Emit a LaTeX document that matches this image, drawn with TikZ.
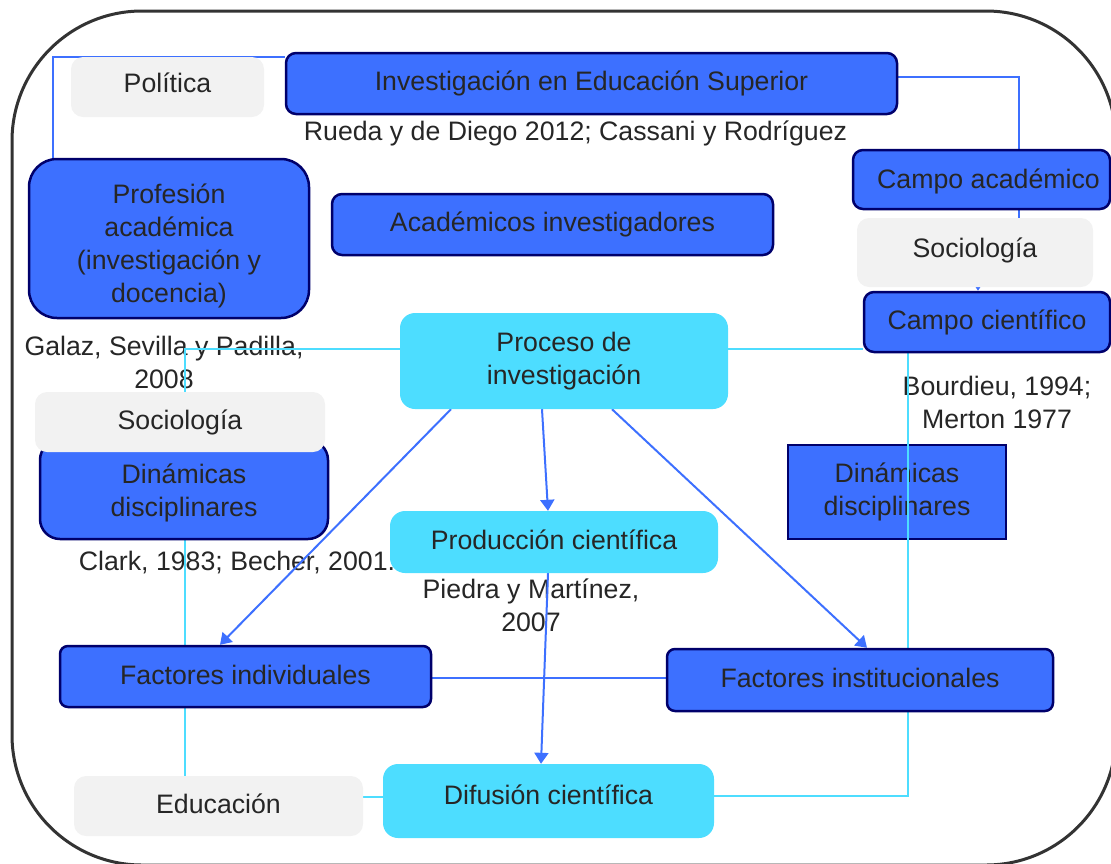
\documentclass[tikz,border=0pt]{standalone}
\usepackage{fontspec}
\setmainfont{Liberation Sans}
\usetikzlibrary{arrows.meta,calc}
\pgfdeclarelayer{bg}
\pgfsetlayers{bg,main}
\definecolor{blu}{HTML}{3D70FF}
\definecolor{navy}{HTML}{00006B}
\definecolor{cya}{HTML}{4DDDFF}
\definecolor{gry}{HTML}{F2F2F2}
\definecolor{txt}{HTML}{262626}
\definecolor{frm}{HTML}{333333}
\begin{document}
\begin{tikzpicture}[x=1pt,y=-1pt,
  every node/.style={font=\fontsize{26.7}{33}\selectfont, text=txt, inner sep=0pt},
  ml/.style={align=center},
  one/.style={text height=19pt, text depth=5pt},
  bbox/.style={fill=blu, draw=navy, line width=2.5pt, rounded corners=10pt},
  cbox/.style={fill=cya, draw=none, rounded corners=15pt},
  gbox/.style={fill=gry, draw=none, rounded corners=12pt},
  bline/.style={draw=blu, line width=2.5pt},
  cline/.style={draw=cya, line width=2.5pt},
  barrow/.style={draw=blu, line width=2pt, -{Triangle[width=14pt,length=11pt]}}
]
\useasboundingbox (0,0) rectangle (1111,863);

% helper coordinates
\coordinate (k1) at (53,57);
\coordinate (k2) at (1019,77);
\coordinate (k3) at (978,250);
\coordinate (k4) at (185,349);
\coordinate (k5) at (908,796);
\coordinate (k6) at (0,678);
\coordinate (k7) at (0,797);
\coordinate (px1) at (451,0);
\coordinate (px2) at (220,0);
\coordinate (px3) at (542,0);
\coordinate (px4) at (548,0);
\coordinate (px5) at (612,0);
\coordinate (px6) at (867,0);
\coordinate (px7) at (548,0);
\coordinate (px8) at (541,0);

% main boxes
\node[gbox,one, text depth=9pt, minimum width=193pt, minimum height=60pt] (pol) at (167.5,87) {Política};
\node[bbox,one, minimum width=611pt, minimum height=61pt] (ies) at (591.5,83.5) {Investigación en Educación Superior};
\node[bbox, rounded corners=28pt, minimum width=280pt, minimum height=159pt] (prof) at (169,238.5) {};
\node[ml] (proft) at (169,245.5) {Profesión\\académica\\(investigación y\\docencia)};
\node[bbox,one, minimum width=441pt, minimum height=61pt] (acad) at (552.5,224.5) {Académicos investigadores};
\node[bbox,one, text depth=2pt, minimum width=257pt, minimum height=59pt] (campoac) at (981.5,179.5) {\hspace*{14pt}Campo académico};
\node[gbox,one, text depth=9pt, minimum width=236pt, minimum height=69pt] (soc2) at (975,252.5) {Sociología};
\node[bbox,one, minimum width=246pt, minimum height=60pt] (campoci) at (987,322) {Campo científico};
\node[cbox,ml, minimum width=328pt, minimum height=96pt] (proc) at (564,361) {Proceso de\\investigación};
\node[bbox,ml, rounded corners=20pt, minimum width=288pt, minimum height=99pt] (dinL) at (184,489.5) {};
\node[ml] (dinLt) at (184,492.5) {Dinámicas\\disciplinares};
\node[gbox,one, minimum width=290pt, minimum height=60pt] (soc1) at (180,422) {Sociología};
\node[cbox,one, minimum width=328pt, minimum height=62pt] (prod) at (554,542) {Producción científica};
\node[bbox,one, text depth=4pt, rounded corners=8pt, minimum width=371pt, minimum height=61pt] (find) at (245.5,676.5) {Factores individuales};
\node[bbox,one, rounded corners=8pt, minimum width=386pt, minimum height=62pt] (finst) at (860,680) {Factores institucionales};
\node[gbox,one, minimum width=289pt, minimum height=60pt] (edu) at (218.5,806) {Educación};
\node[cbox,one, text depth=13pt, minimum width=331pt, minimum height=74pt] (dif) at (548.5,801) {Difusión científica};

\begin{pgfonlayer}{bg}
  \draw[frm, line width=3pt, rounded corners=130pt] (12,11) rectangle (1116,865);
  % annotations
  \node[one] (rueda) at (575.5,133) {Rueda y de Diego 2012; Cassani y Rodríguez};
  \node[ml] (galaz) at (164,362.5) {Galaz, Sevilla y Padilla,\\2008};
  \node[one] (clark) at (237,563) {Clark, 1983; Becher, 2001.};
  \node[ml] (piedra) at (531,605.5) {Piedra y Martínez,\\2007};
  \node[ml] (bourd) at (997,402.5) {Bourdieu, 1994;\\Merton 1977};
  \node[ml, fill=blu, draw=navy, line width=2.5pt, minimum width=218pt, minimum height=94pt] (dinR) at (897,492) {Dinámicas\\disciplinares};
  % blue connectors
  \draw[bline] (ies.west|-k1) -- (k1) -- (k1|-prof.north);
  \draw[bline] (ies.east|-k2) -- (k2) -- (k2|-campoac.north);
  \draw[barrow] (k2|-campoac.south) -- (k2|-k3) -- (k3) -- (k3|-campoci.north);
  \draw[bline] (find.east|-k6) -- (finst.west|-k6);
  % cyan connectors
  \draw[cline] (proc.west|-k4) -- (k4) -- (k4|-edu.north);
  \draw[cline] (proc.east|-k4) -- (campoci.west|-k4);
  \draw[cline] (k5|-campoci.south) -- (k5) -- (dif.east|-k5);
  \draw[cline] (edu.east|-k7) -- (dif.west|-k7);
  % arrows
  \draw[barrow] (proc.south-|px1) -- (find.north-|px2);
  \draw[barrow] (proc.south-|px3) -- (prod.north-|px4);
  \draw[barrow] (proc.south-|px5) -- (finst.north-|px6);
  \draw[barrow] (prod.south-|px7) -- (dif.north-|px8);
\end{pgfonlayer}
\end{tikzpicture}
\end{document}
